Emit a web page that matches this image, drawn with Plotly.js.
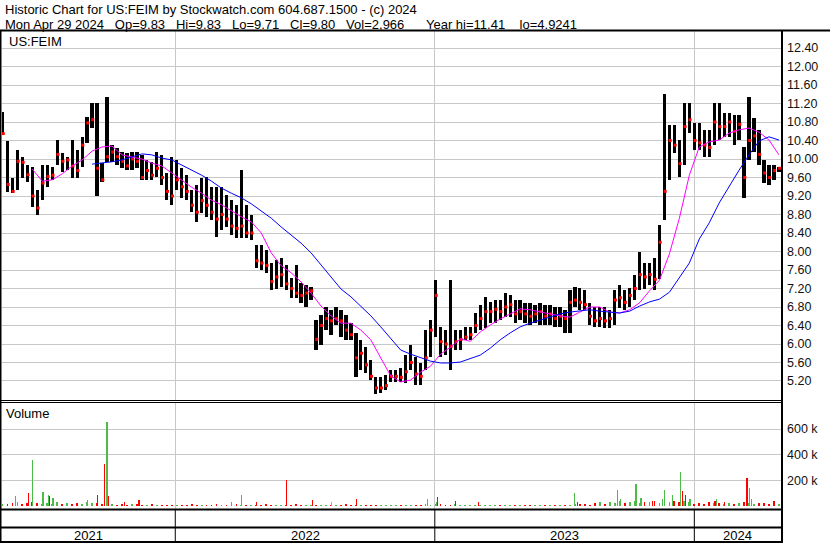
<!DOCTYPE html>
<html>
<head>
<meta charset="utf-8">
<script src="https://cdn.plot.ly/plotly-3.0.1.min.js"></script>
<style>
  html, body { margin: 0; padding: 0; background: #fff; }
  #chart { width: 830px; height: 543px; }
</style>
</head>
<body>
<div id="chart"></div>
<script>
// ---- US:FEIM weekly bars, one per week starting Monday 2021-05-03 ----
const FIRST_WEEK = '2021-05-03';
const weekHigh = [
  11.02,10.39,9.59,10.19,10.04,9.87,9.83,9.33,9.87,9.87,9.83,10.41,10.13,10.04,10.41,10.19,10.48,10.91,11.21,11.21,
  9.91,11.34,10.30,10.24,10.15,10.13,10.15,10.15,10.09,9.98,9.93,10.15,10.09,9.70,10.04,9.98,9.80,9.65,9.33,9.44,
  9.59,9.61,9.40,9.40,9.40,9.22,9.11,9.01,9.76,9.01,8.79,8.14,8.14,8.03,7.75,7.82,7.86,7.71,7.43,7.71,
  7.32,7.28,7.23,6.52,6.63,6.80,6.74,6.80,6.74,6.63,6.46,6.24,6.09,5.93,5.65,5.29,5.29,5.33,5.44,5.44,
  5.48,5.76,5.98,5.72,5.59,6.30,6.52,7.38,6.37,6.30,7.38,6.30,6.30,6.37,6.37,6.67,6.84,7.01,6.91,6.95,
  6.95,7.10,7.06,6.95,6.95,6.89,6.89,6.84,6.89,6.84,6.84,6.80,6.80,6.74,7.17,7.23,7.21,7.17,6.89,6.80,
  6.80,6.80,6.74,7.17,7.28,7.17,7.21,7.49,7.99,7.75,7.75,7.86,8.57,11.41,10.73,10.73,10.41,11.21,11.21,10.78,
  10.78,10.63,10.63,11.21,11.21,10.99,10.99,10.95,10.95,10.26,11.34,10.89,10.63,9.98,9.87,9.87,9.83
];
const weekLow = [
  10.52,9.29,9.26,9.33,9.59,9.50,8.96,8.79,9.11,9.40,9.55,9.87,9.72,9.76,9.59,9.59,9.83,10.35,10.67,9.20,
  9.50,9.93,9.93,9.87,9.80,9.76,9.76,9.80,9.55,9.55,9.55,9.61,9.44,9.11,9.00,9.33,9.15,9.11,8.85,8.64,
  8.83,8.75,8.68,8.31,8.46,8.53,8.36,8.29,8.29,8.29,8.25,7.64,7.60,7.54,7.17,7.19,7.23,7.17,6.99,6.99,
  6.89,6.80,6.95,5.87,5.98,6.30,6.20,6.41,6.15,6.09,6.09,5.29,5.44,5.37,5.22,4.92,4.94,5.01,5.18,5.18,
  5.18,5.16,5.44,5.11,5.11,5.44,5.72,6.15,5.72,5.76,5.44,5.87,5.87,6.09,6.09,6.24,6.30,6.35,6.46,6.46,
  6.52,6.58,6.58,6.46,6.52,6.46,6.41,6.46,6.41,6.41,6.41,6.37,6.37,6.24,6.24,6.80,6.74,6.74,6.41,6.37,
  6.37,6.35,6.35,6.41,6.78,6.74,6.80,6.95,7.17,7.19,7.28,7.17,7.40,8.68,9.55,10.13,9.61,9.87,10.56,10.19,
  10.19,10.04,10.04,10.30,10.41,10.48,10.48,10.30,10.41,9.16,9.98,10.15,9.87,9.48,9.44,9.55,9.71
];
const weekClose = [
  10.55,9.45,9.30,9.95,9.93,9.66,9.20,8.94,9.48,9.62,9.65,10.10,9.95,9.98,9.85,9.75,10.30,10.78,10.85,9.80,
  9.55,10.05,10.15,10.05,9.95,9.85,10.00,9.95,9.60,9.75,9.65,9.80,9.60,9.30,9.20,9.55,9.40,9.30,9.00,8.85,
  9.10,9.00,8.85,8.70,8.80,8.70,8.55,8.50,8.55,8.40,8.40,7.80,7.75,7.70,7.35,7.45,7.50,7.30,7.20,7.10,
  7.05,7.10,7.15,6.10,6.40,6.55,6.50,6.55,6.50,6.30,6.20,5.70,5.80,5.55,5.30,5.05,5.05,5.10,5.30,5.30,
  5.28,5.40,5.60,5.35,5.30,5.70,6.30,7.05,6.05,6.00,5.95,6.05,6.10,6.15,6.20,6.40,6.55,6.70,6.70,6.75,
  6.70,6.80,6.85,6.65,6.70,6.65,6.60,6.65,6.70,6.60,6.65,6.55,6.60,6.55,6.90,6.95,6.90,6.85,6.60,6.50,
  6.55,6.50,6.55,6.95,7.00,6.90,7.05,7.20,7.50,7.45,7.50,7.40,8.20,9.30,10.40,10.30,9.90,10.70,10.85,10.40,
  10.35,10.30,10.25,10.80,10.70,10.70,10.80,10.60,10.75,9.60,10.40,10.50,10.10,9.70,9.60,9.75,9.80
];

// ---- moving averages, one reading every second week ----
const fastMAStartWeek = 6;
const fastMA = [
  9.78,9.52,9.55,9.68,9.85,9.98,10.17,10.26,10.28,10.09,10.04,10.00,9.91,9.85,9.70,9.55,9.39,9.26,9.11,9.01,
  8.88,8.75,8.64,8.40,7.97,7.69,7.54,7.34,7.10,6.82,6.61,6.45,6.45,6.30,6.09,5.70,5.31,5.18,5.22,5.39,
  5.52,5.78,5.93,6.11,6.06,6.26,6.41,6.54,6.65,6.76,6.74,6.69,6.65,6.61,6.58,6.69,6.80,6.80,6.69,6.67,
  6.74,6.89,7.15,7.38,7.95,8.72,9.65,10.26,10.37,10.41,10.56,10.63,10.67,10.58,10.41,10.09
];
const slowMAStartWeek = 18;
const slowMA = [
  9.89,9.91,9.94,9.98,10.04,10.11,10.09,10.02,9.98,9.87,9.76,9.65,9.52,9.37,9.26,9.16,9.03,8.88,8.72,8.53,
  8.36,8.18,7.97,7.71,7.45,7.19,7.02,6.82,6.61,6.37,6.11,5.87,5.78,5.70,5.63,5.59,5.59,5.61,5.68,5.76,
  5.91,6.09,6.24,6.37,6.45,6.52,6.58,6.65,6.69,6.71,6.74,6.71,6.69,6.67,6.71,6.82,6.91,6.97,7.12,7.43,
  7.75,8.27,8.62,9.05,9.42,9.76,10.09,10.39,10.48,10.41
];

// ---- volume: typical day of each week, plus the heavy days (thousands of shares) ----
const weekVolume = [
  20,15,25,30,18,22,35,28,20,25,18,30,15,22,20,25,18,30,28,25,20,40,
  15,12,18,10,14,20,12,10,15,12,10,8,12,
  10,8,12,15,8,10,12,9,14,10,8,12,15,10,9,12,8,10,14,11,9,8,12,10,15,8,9,11,13,10,
  8,12,9,10,14,8,11,9,12,10,8,13,9,10,12,8,11,10,9,12,14,10,
  20,15,12,10,14,9,12,10,8,11,9,12,10,8,10,12,9,11,8,10,9,12,10,9,11,8,10,12,15,18,14,12,
  25,30,20,35,22,40,28,30,45,25,35,30,40,25,50,35,45,30,40,30,
  20,25,18,30,22,28,20,25,18,22,30,25,20,28,22,18,25,15
];
const heavyDays = [
  '2021-05-21','2021-06-08','2021-06-14','2021-06-29','2021-07-07','2021-07-08','2021-07-13','2021-08-30',
  '2021-09-14','2021-09-24','2021-09-27','2021-09-29','2021-10-22','2021-11-11','2022-03-21','2022-04-04',
  '2022-04-25','2022-06-07','2022-07-13','2022-08-09','2022-09-13','2022-12-22','2023-01-03','2023-01-05',
  '2023-01-30','2023-03-03','2023-07-17','2023-07-21','2023-09-15','2023-09-19','2023-10-11','2023-10-18',
  '2023-11-03','2023-11-17','2023-11-20','2023-12-01','2023-12-13','2023-12-15','2023-12-20','2023-12-26',
  '2024-01-30','2024-02-01','2024-02-12','2024-03-15','2024-03-19','2024-03-21','2024-04-22'
];
const heavyVolume = [
  80,105,356,110,87,77,64,48,89,325,651,77,35,46,30,87,
  30,202,50,30,60,60,30,75,40,32,100,30,125,60,174,67,
  40,60,125,87,264,118,85,60,40,60,30,220,143,60,40
];
const heavyMove = [
  'up','down','up','up','up','down','up','up','down','down','up','down','down','down','up','up',
  'down','down','down','flat','down','up','up','down','down','down','up','down','up','up','up','up',
  'down','up','up','up','up','down','down','up','down','up','down','down','up','up','down'
];

const priceTicks = [5.2,5.6,6.0,6.4,6.8,7.2,7.6,8.0,8.4,8.8,9.2,9.6,10.0,10.4,10.8,11.2,11.6,12.0,12.4];
const volumeTicks = [200000,400000,600000];
const volumeTickText = ['200 k','400 k','600 k'];
const yearBreaks = ['2022-01-01','2023-01-01','2024-01-01'];
const yearLabels = ['2021','2022','2023','2024'];

const headerLine1 = 'Historic Chart for US:FEIM by Stockwatch.com 604.687.1500 - (c) 2024';
const gap = n => '\u00a0'.repeat(n);
const headerLine2 = 'Mon Apr 29 2024' + gap(3) + 'Op=9.83' + gap(3) + 'Hi=9.83' + gap(3) + 'Lo=9.71' +
  gap(3) + 'Cl=9.80' + gap(3) + 'Vol=2,966' + gap(6) + 'Year hi=11.41' + gap(4) + 'lo=4.9241';

// ---- geometry (pixels) ----
const W = 830, H = 543;
const plotL = 2, plotR = 781, plotT = 31, plotB = 509;
const priceBottom = 400, volumeTop = 403;
const pxX = x => (x - plotL) / (plotR - plotL);
const pxY = y => (plotB - y) / (plotB - plotT);
const DAY = 86400000;
const rangeStart = '2021-05-02 07:00';
const rangeEnd = '2024-05-01 22:00';

function addDays(iso, n) {
  const d = new Date(iso.slice(0, 10) + 'T00:00:00Z');
  d.setUTCDate(d.getUTCDate() + n);
  return d.toISOString().slice(0, 10);
}
const weeks = weekHigh.map((_, i) => addDays(FIRST_WEEK, 7 * i));
const closeX = weeks.map(w => addDays(w, 1));
const fastDates = fastMA.map((_, i) => weeks[fastMAStartWeek + 2 * i]);
const slowDates = slowMA.map((_, i) => weeks[slowMAStartWeek + 2 * i]);

const GREEN = '#4cbb47', RED = '#ff0000', GREY = '#a8a8a8';
const weekUp = weekClose.map((c, i) => i === 0 || c >= weekClose[i - 1]);

const traces = [
  { type: 'bar', x: weeks, base: weekLow, y: weekHigh.map((h, i) => h - weekLow[i]),
    width: 4.6 * DAY, marker: { color: '#000', line: { width: 0 } },
    xaxis: 'x', yaxis: 'y', hoverinfo: 'skip' },
  { type: 'scatter', mode: 'markers', x: closeX, y: weekClose,
    marker: { symbol: 'square', size: 3, color: RED, line: { width: 0 } },
    xaxis: 'x', yaxis: 'y', hoverinfo: 'skip' },
  { type: 'scatter', mode: 'lines', x: fastDates, y: fastMA,
    line: { color: '#ff00ff', width: 1 }, xaxis: 'x', yaxis: 'y', hoverinfo: 'skip' },
  { type: 'scatter', mode: 'lines', x: slowDates, y: slowMA,
    line: { color: '#0000ff', width: 1 }, xaxis: 'x', yaxis: 'y', hoverinfo: 'skip' },
  { type: 'bar', x: weeks, y: weekVolume.map(v => v * 1000), width: 2.6 * DAY,
    marker: { color: weekUp.map(u => u ? GREEN : RED), line: { width: 0 } },
    xaxis: 'x', yaxis: 'y2', hoverinfo: 'skip' },
  { type: 'bar', x: heavyDays, y: heavyVolume.map(v => v * 1000), width: 1.6 * DAY,
    marker: { color: heavyMove.map(m => m === 'up' ? GREEN : m === 'down' ? RED : GREY), line: { width: 0 } },
    xaxis: 'x', yaxis: 'y2', hoverinfo: 'skip' }
];

const font = 'Liberation Sans, Arial, sans-serif';
const lineShape = (x0, y0, x1, y1, w) => ({
  type: 'line', xref: 'paper', yref: 'paper',
  x0: pxX(x0), y0: pxY(y0), x1: pxX(x1), y1: pxY(y1),
  line: { color: '#000', width: w }
});
const shapes = [
  lineShape(0, 30.5, W, 30.5, 2),
  lineShape(0.5, 30, 0.5, H, 2),
  lineShape(782, 30, 782, H, 2),
  lineShape(0, priceBottom + 0.5, 782, priceBottom + 0.5, 1),
  lineShape(0, volumeTop - 0.5, 782, volumeTop - 0.5, 1),
  lineShape(0, 509.5, 782, 509.5, 2),
  lineShape(0, 527.5, 782, 527.5, 2),
  lineShape(0, 542, 782, 542, 2)
];
yearBreaks.forEach(d => shapes.push({
  type: 'line', xref: 'x', yref: 'paper', x0: d, x1: d, y0: pxY(509), y1: pxY(H),
  line: { color: '#000', width: 1 }
}));

const ms = s => new Date(s.replace(' ', 'T') + (s.length > 10 ? ':00Z' : 'T00:00:00Z')).getTime();
const bounds = [rangeStart, ...yearBreaks, rangeEnd].map(ms);
const annotations = [
  { text: headerLine1, x: pxX(4), y: pxY(9.5) },
  { text: headerLine2, x: pxX(4), y: pxY(24.5) },
  { text: 'US:FEIM', x: pxX(8), y: pxY(41) },
  { text: 'Volume', x: pxX(5), y: pxY(413) }
].map(a => Object.assign({ xref: 'paper', yref: 'paper', xanchor: 'left', yanchor: 'middle',
  showarrow: false, borderpad: 0, font: { family: font, size: 13, color: '#000' } }, a));
yearLabels.forEach((label, i) => annotations.push({
  text: label, xref: 'x', yref: 'paper', x: (bounds[i] + bounds[i + 1]) / 2, y: pxY(535),
  xanchor: 'center', yanchor: 'middle', showarrow: false, borderpad: 0,
  font: { family: font, size: 13, color: '#000' }
}));

const grid = '#c8c8c8';
const tickFont = { family: font, size: 12.5, color: '#111' };
const layout = {
  width: W, height: H,
  margin: { l: plotL, r: W - plotR, t: plotT, b: H - plotB, pad: 0 },
  paper_bgcolor: '#fff', plot_bgcolor: '#fff',
  showlegend: false, barmode: 'overlay', bargap: 0,
  xaxis: {
    type: 'date', range: [rangeStart, rangeEnd], anchor: 'y2',
    tickmode: 'array', tickvals: yearBreaks, showticklabels: false, ticks: '',
    showgrid: true, gridcolor: grid, gridwidth: 1, zeroline: false, showline: false, fixedrange: true
  },
  yaxis: {
    domain: [pxY(priceBottom), 1], range: [4.789, 12.768], side: 'right', anchor: 'x',
    tickmode: 'array', tickvals: priceTicks, tickformat: '.2f', ticks: '', ticklabelstandoff: 5,
    showgrid: true, gridcolor: grid, gridwidth: 1, zeroline: false, showline: false,
    tickfont: tickFont, fixedrange: true
  },
  yaxis2: {
    domain: [0, pxY(volumeTop)], range: [-21000, 802000], side: 'right', anchor: 'x',
    tickmode: 'array', tickvals: volumeTicks, ticktext: volumeTickText, ticks: '', ticklabelstandoff: 5,
    showgrid: true, gridcolor: grid, gridwidth: 1, zeroline: false, showline: false,
    tickfont: tickFont, fixedrange: true
  },
  shapes: shapes,
  annotations: annotations
};

Plotly.newPlot('chart', traces, layout, { displayModeBar: false, staticPlot: true });
</script>
</body>
</html>
